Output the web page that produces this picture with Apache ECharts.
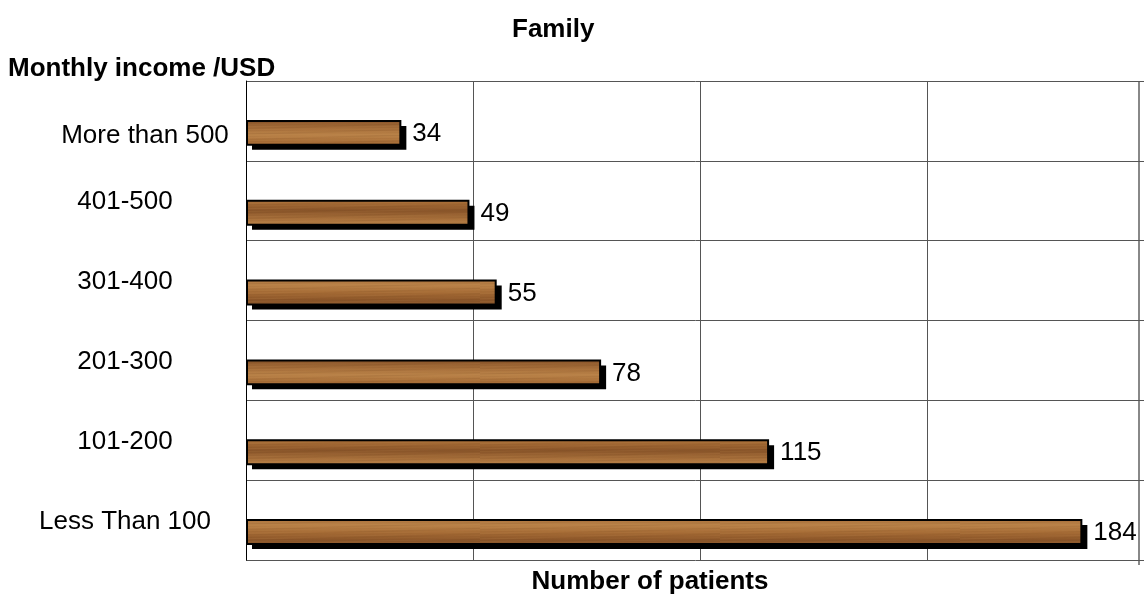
<!DOCTYPE html>
<html>
<head>
<meta charset="utf-8">
<script src="https://cdn.jsdelivr.net/npm/echarts@6/dist/echarts.min.js"></script>
<style>html,body{margin:0;padding:0;background:#fff}#c{width:1144px;height:599px}</style>
</head>
<body>
<div id="c"></div>
<script>
// ---- data ----
var categories = ['More than 500', '401-500', '301-400', '201-300', '101-200', 'Less Than 100'];
var patients = [34, 49, 55, 78, 115, 184];
var xTicks = [0, 50, 100, 150, 200];
var chartTitle = 'Family';
var yTitle = 'Monthly income /USD';
var xTitle = 'Number of patients';

// ---- wood texture (style only) ----
function woodPattern() {
  var c = document.createElement('canvas');
  c.width = 240; c.height = 30;
  var g = c.getContext('2d');
  var grd = g.createLinearGradient(0, 0, 0, 30);
  grd.addColorStop(0, '#875328');
  grd.addColorStop(0.3, '#a8703b');
  grd.addColorStop(0.5, '#b98248');
  grd.addColorStop(0.75, '#a66c36');
  grd.addColorStop(1, '#8c5629');
  g.fillStyle = grd; g.fillRect(0, 0, 240, 30);
  for (var y = 0; y < 30; y++) {
    for (var x = 0; x < 240; x += 2) {
      var v = Math.sin(x * 0.05 + y * 1.7) * Math.sin(x * 0.013 + y * 0.6) + 0.5 * Math.sin(y * 2.3 + x * 0.008);
      var a = Math.abs(v) * 0.08;
      g.fillStyle = v > 0 ? 'rgba(215,160,100,' + a + ')' : 'rgba(100,58,22,' + a + ')';
      g.fillRect(x, y, 2, 1);
    }
  }
  return c;
}
var woodImg = woodPattern();

var chart = echarts.init(document.getElementById('c'), null, {renderer: 'canvas'});
var FONT = 'Liberation Sans';

chart.setOption({
  animation: false,
  backgroundColor: '#fff',
  textStyle: {fontFamily: FONT},
  title: [
    {text: chartTitle, left: 507, top: 12, textStyle: {fontFamily: FONT, fontSize: 26, fontWeight: 'bold', color: '#000'}},
    {text: yTitle, left: 3, top: 51, textStyle: {fontFamily: FONT, fontSize: 26, fontWeight: 'bold', color: '#000'}}
  ],
  grid: {left: 246, right: -10, top: 81, bottom: 39, containLabel: false, outerBoundsMode: 'none'},
  xAxis: {
    type: 'value', min: xTicks[0], max: xTicks[xTicks.length - 1], interval: xTicks[1] - xTicks[0],
    axisLine: {show: false}, axisTick: {show: false}, axisLabel: {show: false},
    splitLine: {show: true, lineStyle: {color: '#555', width: 1}},
    name: xTitle, nameLocation: 'middle', nameGap: 9,
    nameTextStyle: {fontFamily: FONT, fontSize: 26, fontWeight: 'bold', color: '#000', padding: [0, 100, 0, 0]}
  },
  yAxis: {
    type: 'category', data: categories, inverse: true,
    axisLine: {show: true, lineStyle: {color: '#000', width: 1}},
    axisTick: {show: false},
    splitLine: {show: true, lineStyle: {color: '#555', width: 1}},
    axisLabel: {
      margin: 121, align: 'center', color: '#000', fontFamily: FONT, fontSize: 26,
      formatter: function (v, i) { return (i === 0 ? '{a|' : '{b|') + v + '}'; },
      rich: {
        a: {fontFamily: FONT, fontSize: 26, color: '#000', padding: [30, 0, 0, 40]},
        b: {fontFamily: FONT, fontSize: 26, color: '#000', padding: [3, 0, 0, 0]}
      }
    }
  },
  graphic: [
    {type: 'line', shape: {x1: 1139, y1: 81, x2: 1139, y2: 565}, style: {stroke: '#888', lineWidth: 2}, silent: true}
  ],
  series: [{
    type: 'custom',
    data: patients.map(function (v, i) { return [v, i]; }),
    encode: {x: 0, y: 1},
    renderItem: function (params, api) {
      var idx = api.value(1);
      var val = api.value(0);
      var p0 = api.coord([0, idx]);
      var p1 = api.coord([val, idx]);
      var band = api.size([0, 1])[1];
      var h = band * 0.3;
      var cy = p0[1] + band * 0.15;
      var y = cy - h / 2;
      var w = p1[0] - p0[0];
      return {
        type: 'group',
        children: [
          {type: 'rect', shape: {x: p0[0] + 6, y: y + 5, width: w, height: h}, style: {fill: '#000'}},
          {type: 'rect', shape: {x: p0[0] + 1, y: y, width: w - 1, height: h},
           style: {fill: {image: woodImg, repeat: 'repeat'}, stroke: '#000', lineWidth: 2}},
          {type: 'text', x: p1[0] + 12, y: cy + 1,
           style: {text: String(val), fontFamily: FONT, fontSize: 26, fill: '#000', align: 'left', verticalAlign: 'middle'}}
        ]
      };
    }
  }]
});
</script>
</body>
</html>
